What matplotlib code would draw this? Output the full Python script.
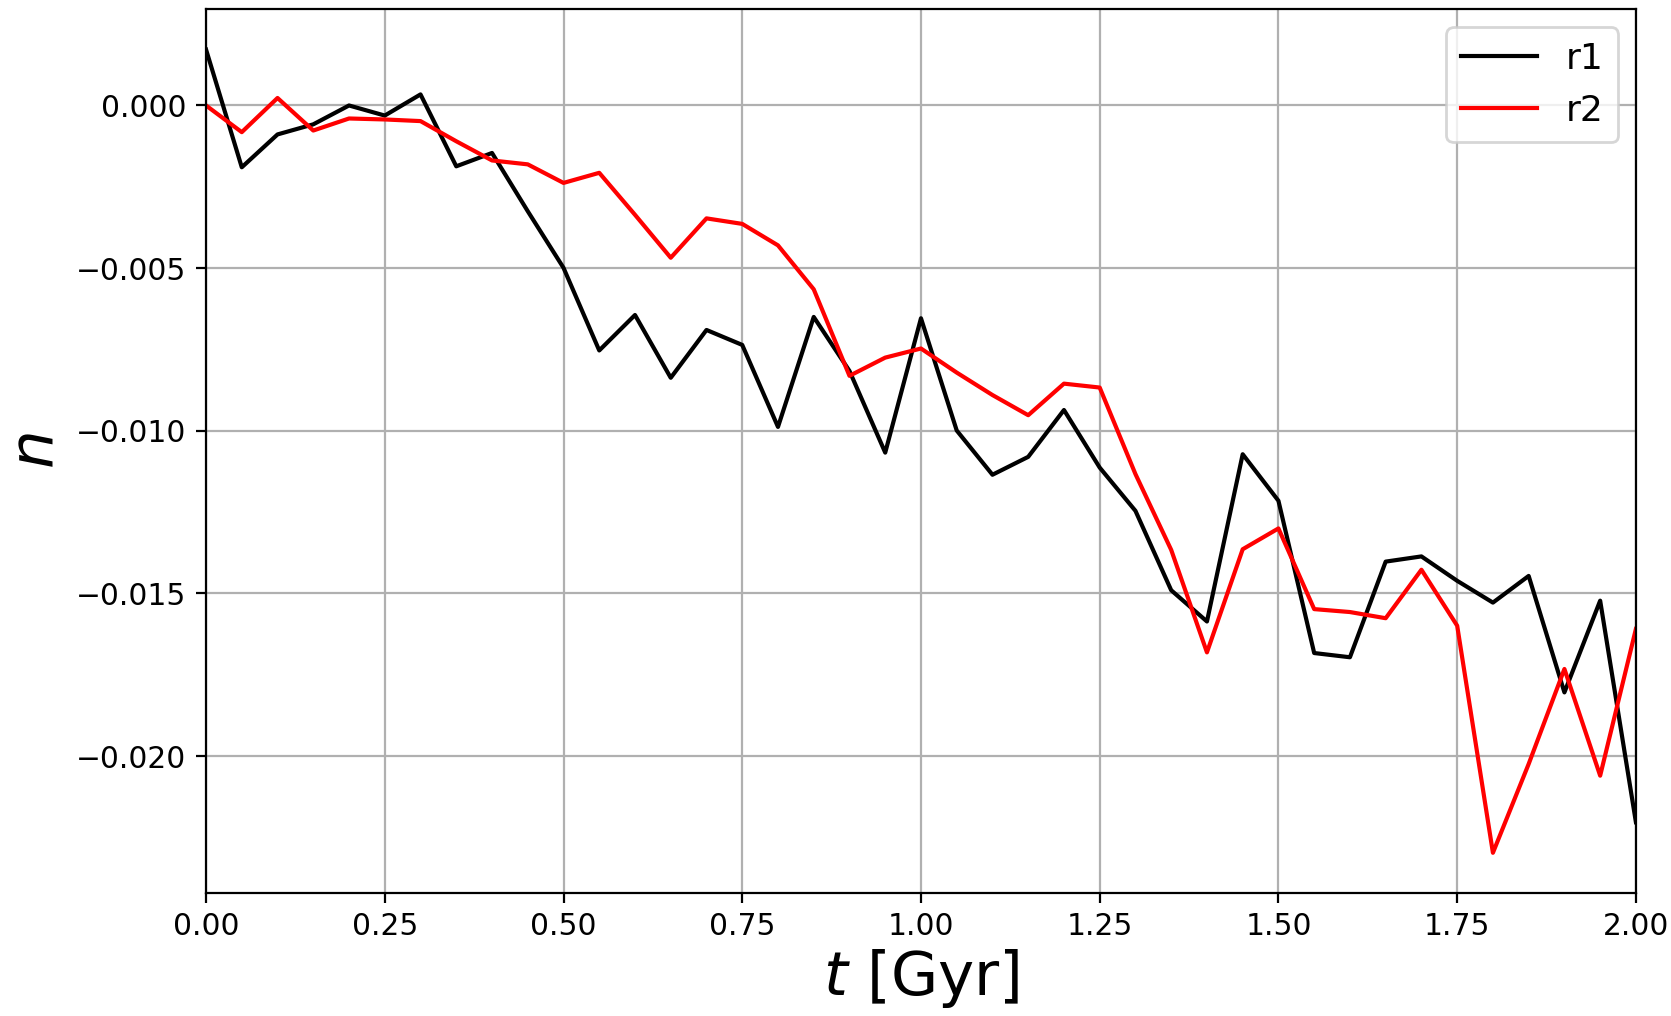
import numpy as np
import matplotlib
matplotlib.use('Agg')
import matplotlib.pyplot as plt

# time samples [Gyr]
t = np.linspace(0.0, 2.0, 41)

r1 = [0.00172, -0.00190, -0.00089, -0.00058, 0.00000, -0.00031, 0.00034, -0.00187,
      -0.00146, -0.00325, -0.00499, -0.00753, -0.00644, -0.00837, -0.00690, -0.00736,
      -0.00988, -0.00650, -0.00816, -0.01067, -0.00654, -0.00999, -0.01135, -0.01080,
      -0.00936, -0.01113, -0.01246, -0.01490, -0.01586, -0.01072, -0.01215, -0.01683,
      -0.01696, -0.01402, -0.01386, -0.01461, -0.01528, -0.01446, -0.01804, -0.01522,
      -0.02203]

r2 = [0.00000, -0.00082, 0.00023, -0.00077, -0.00040, -0.00043, -0.00048, -0.00110,
      -0.00169, -0.00181, -0.00238, -0.00207, -0.00336, -0.00468, -0.00347, -0.00364,
      -0.00430, -0.00565, -0.00831, -0.00775, -0.00747, -0.00821, -0.00890, -0.00952,
      -0.00855, -0.00867, -0.01133, -0.01366, -0.01681, -0.01364, -0.01300, -0.01548,
      -0.01557, -0.01576, -0.01427, -0.01599, -0.02297, -0.02024, -0.01732, -0.02060,
      -0.01609]

fig = plt.figure(figsize=(8.355, 5.08), dpi=200)
ax = fig.add_axes([0.1233, 0.1211, 0.979 - 0.1233, 0.9908 - 0.1211])

ax.plot(t, r1, color='k', lw=1.5, label='r1')
ax.plot(t, r2, color='r', lw=1.5, label='r2')

ax.set_xlim(0, 2)
ax.grid(True)
ax.tick_params(labelsize=10.7)
ax.set_xlabel(r'$t$ [Gyr]', fontsize=22, labelpad=2)
ax.set_ylabel(r'$n$', fontsize=22)
ax.legend(loc='upper right', fontsize=13, handlelength=2.1)

fig.savefig('out.png', dpi=200)
